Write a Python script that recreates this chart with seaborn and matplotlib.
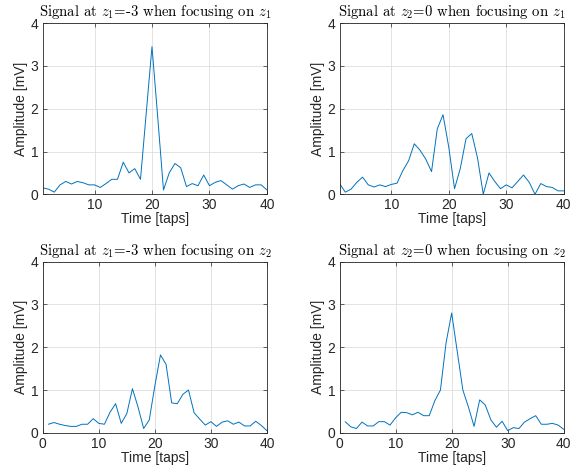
import pandas as pd
import seaborn as sns
import matplotlib
matplotlib.use("Agg")
import matplotlib.pyplot as plt

taps = list(range(1, 41))

# z1=-3 focusing on z1
z1_focus_z1 = [0.15, 0.12, 0.05, 0.22, 0.30, 0.24, 0.30, 0.27, 0.22, 0.22,
               0.16, 0.25, 0.35, 0.35, 0.75, 0.50, 0.60, 0.35, 1.90, 3.45,
               1.80, 0.10, 0.50, 0.72, 0.62, 0.18, 0.25, 0.20, 0.45, 0.20,
               0.28, 0.32, 0.22, 0.12, 0.20, 0.24, 0.16, 0.22, 0.22, 0.10]
# z2=0 focusing on z1
z2_focus_z1 = [0.25, 0.05, 0.12, 0.28, 0.40, 0.22, 0.17, 0.22, 0.18, 0.23,
               0.26, 0.55, 0.78, 1.18, 1.03, 0.82, 0.53, 1.53, 1.86, 1.10,
               0.13, 0.60, 1.30, 1.42, 0.85, 0.00, 0.50, 0.30, 0.13, 0.22,
               0.15, 0.30, 0.45, 0.28, 0.00, 0.25, 0.18, 0.16, 0.08, 0.08]
# z1=-3 focusing on z2
z1_focus_z2 = [0.20, 0.24, 0.20, 0.17, 0.15, 0.15, 0.20, 0.20, 0.33, 0.22,
               0.20, 0.48, 0.68, 0.22, 0.45, 1.03, 0.60, 0.10, 0.30, 1.10,
               1.82, 1.60, 0.70, 0.68, 0.90, 1.00, 0.47, 0.32, 0.18, 0.26,
               0.15, 0.25, 0.28, 0.20, 0.25, 0.16, 0.16, 0.27, 0.17, 0.05]
# z2=0 focusing on z2
z2_focus_z2 = [0.26, 0.14, 0.10, 0.25, 0.16, 0.16, 0.26, 0.26, 0.18, 0.35,
               0.48, 0.47, 0.42, 0.48, 0.40, 0.40, 0.75, 1.00, 2.10, 2.80,
               1.90, 1.00, 0.60, 0.15, 0.77, 0.65, 0.30, 0.13, 0.27, 0.05,
               0.12, 0.10, 0.25, 0.33, 0.40, 0.20, 0.20, 0.22, 0.18, 0.08]

titles = [r"Signal at $z_1$=-3 when focusing on $z_1$",
          r"Signal at $z_2$=0 when focusing on $z_1$",
          r"Signal at $z_1$=-3 when focusing on $z_2$",
          r"Signal at $z_2$=0 when focusing on $z_2$"]
series = [z1_focus_z1, z2_focus_z1, z1_focus_z2, z2_focus_z2]
x_starts = [1, 1, 0, 0]

sns.set_theme(style="whitegrid")
plt.rcParams['font.family'] = ['Liberation Sans', 'DejaVu Sans']
plt.rcParams['mathtext.fontset'] = 'cm'

fig, axes = plt.subplots(2, 2, figsize=(5.86, 4.73), dpi=100)
fig.subplots_adjust(left=0.073, right=0.962, top=0.951, bottom=0.085,
                    wspace=0.324, hspace=0.394)

for ax, vals, title, x0 in zip(axes.flat, series, titles, x_starts):
    df = pd.DataFrame({"Time [taps]": taps, "Amplitude [mV]": vals})
    sns.lineplot(data=df, x="Time [taps]", y="Amplitude [mV]", ax=ax,
                 color="#0072BD", linewidth=0.7)
    ax.set_xlim(x0, 40)
    ax.set_ylim(0, 4)
    ax.set_xticks([0, 10, 20, 30, 40] if x0 == 0 else [10, 20, 30, 40])
    ax.set_yticks([0, 1, 2, 3, 4])
    ax.set_title(title, fontsize=10.6, family='cmr10', color='black', pad=5)
    ax.set_xlabel("Time [taps]", fontsize=10, color='#262626', labelpad=0)
    ax.set_ylabel("Amplitude [mV]", fontsize=10, color='#262626', labelpad=2)
    ax.tick_params(direction='in', length=3, width=0.5, colors='#262626',
                   labelsize=10, top=True, right=True, bottom=True, left=True,
                   pad=3)
    ax.grid(True, color='#dedede', linewidth=0.6)
    for sp in ax.spines.values():
        sp.set_color('#262626')
        sp.set_linewidth(0.6)
    ax.set_facecolor('white')

fig.savefig("out.png", dpi=100)
